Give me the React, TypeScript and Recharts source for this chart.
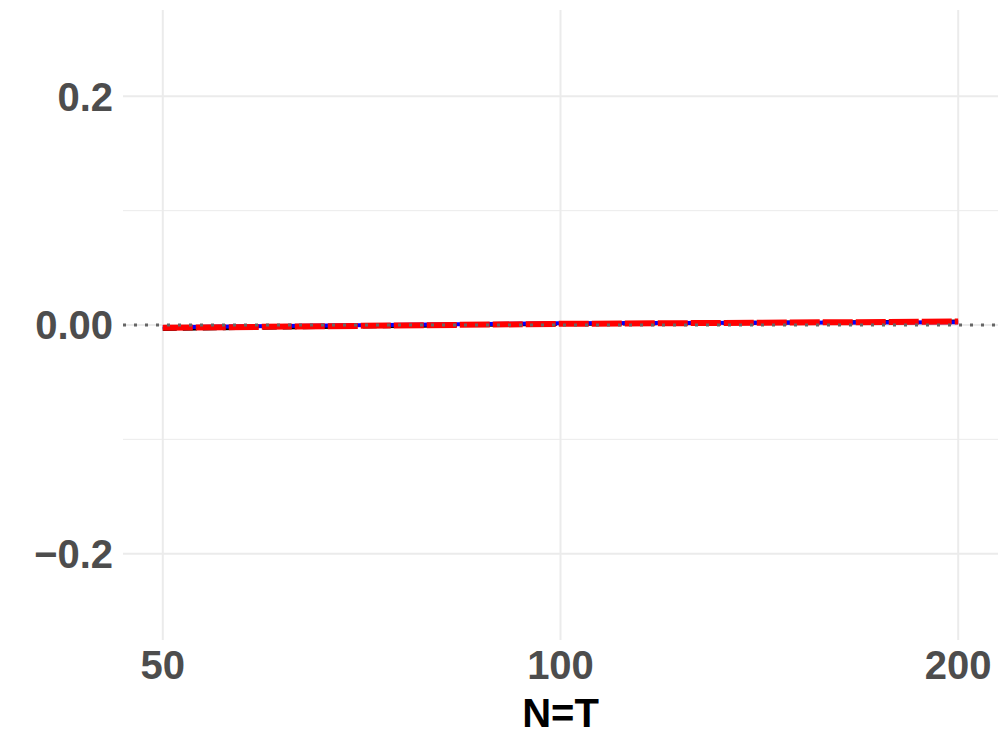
import React from 'react';
import { LineChart, Line, XAxis, YAxis, ReferenceLine } from 'recharts';

const sizes = [50, 100, 200];
const seriesBlack = [-0.0035, 0.001, 0.003];
const seriesBlue = [-0.002, 0.0015, 0.0025];
const seriesRed = [-0.0025, 0.001, 0.003];
const yTicks = [-0.2, 0, 0.2];
const yTickLabels = ['\u22120.2', '0.00', '0.2'];
const yMinor = [-0.1, 0.1];

const data = sizes.map((n, i) => ({
  n,
  black: seriesBlack[i],
  blue: seriesBlue[i],
  red: seriesRed[i],
}));

const FONT = '"Liberation Sans", Arial, Helvetica, sans-serif';

export default function App() {
  const xDomain = [50 / Math.pow(2, 0.1), 200 * Math.pow(2, 0.1)];
  return (
    <div style={{ position: 'absolute', left: 0, top: 0, width: 1007, height: 755, background: '#fff' }}>
      <LineChart width={1007} height={755} data={data} margin={{ top: 10, right: 9, bottom: 0, left: 0 }}>
        <XAxis
          dataKey="n"
          type="number"
          scale="log"
          domain={xDomain}
          allowDataOverflow
          ticks={sizes}
          axisLine={false}
          tickLine={false}
          tickSize={0}
          tickMargin={11}
          height={115}
          tick={{ fill: '#4d4d4d', fontSize: 40, fontWeight: 'bold', fontFamily: FONT }}
          label={{ value: 'N=T', position: 'insideBottom', offset: 28, fill: '#000', fontSize: 40, fontWeight: 'bold', fontFamily: FONT }}
        />
        <YAxis
          type="number"
          domain={[-0.2755, 0.2755]}
          allowDataOverflow
          ticks={yTicks}
          tickFormatter={(v: number) => yTickLabels[yTicks.indexOf(v)] ?? String(v)}
          axisLine={false}
          tickLine={false}
          tickSize={0}
          tickMargin={10}
          width={123}
          tick={{ fill: '#4d4d4d', fontSize: 40, fontWeight: 'bold', fontFamily: FONT }}
        />
        {yMinor.map((v) => (
          <ReferenceLine key={'mn' + v} y={v} stroke="#ebebeb" strokeWidth={1} />
        ))}
        {yTicks.map((v) => (
          <ReferenceLine key={'mj' + v} y={v} stroke="#ebebeb" strokeWidth={2} />
        ))}
        {sizes.map((v) => (
          <ReferenceLine key={'vx' + v} x={v} stroke="#ebebeb" strokeWidth={2} />
        ))}
        <Line dataKey="black" stroke="#000000" strokeWidth={4} strokeDasharray="14 6" dot={false} isAnimationActive={false} />
        <Line dataKey="blue" stroke="#0000ff" strokeWidth={4} dot={false} isAnimationActive={false} />
        <Line dataKey="red" stroke="#ff0000" strokeWidth={6} strokeDasharray="30 3" dot={false} isAnimationActive={false} />
        <ReferenceLine y={0} stroke="#666666" strokeWidth={3} strokeDasharray="3 8" />
      </LineChart>
    </div>
  );
}
